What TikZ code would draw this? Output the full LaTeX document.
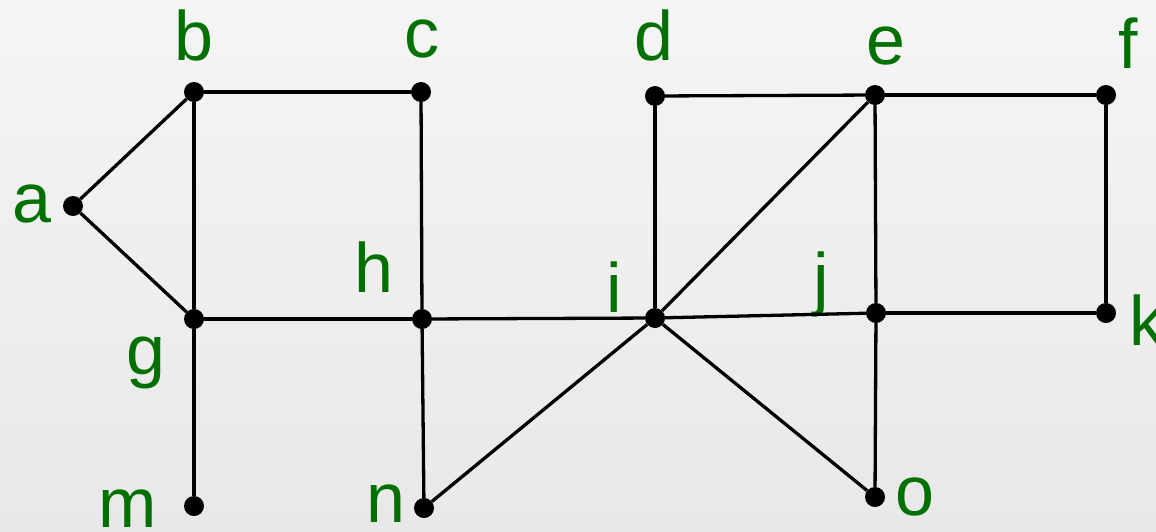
\documentclass[tikz,border=0pt]{standalone}
\usepackage{fontspec}
\setmainfont{Liberation Sans}
\usetikzlibrary{positioning}
\definecolor{lblgreen}{RGB}{0,112,0}

\begin{document}
\begin{tikzpicture}[
    x=1pt, y=-1pt,
    vertex/.style={circle, fill=black, inner sep=0pt, minimum size=20pt},
    lbl/.style={anchor=base, inner sep=0pt, text=lblgreen, font=\fontsize{70}{84}\selectfont},
    edge/.style={line width=3.3pt}
]

% Background
\shade[top color=white!96!black, bottom color=white!91!black] (0,0) rectangle (1156,531);
\useasboundingbox (0,0) rectangle (1156,531);

% Vertices
\node[vertex] (a) at (73,206) {};
\node[vertex] (b) at (194,92) {};
\node[vertex] (c) at (421,92) {};
\node[vertex] (d) at (655,96) {};
\node[vertex] (e) at (875,95) {};
\node[vertex] (f) at (1106,95) {};
\node[vertex] (g) at (194,319) {};
\node[vertex] (h) at (422,319) {};
\node[vertex] (i) at (655,318) {};
\node[vertex] (j) at (876,313) {};
\node[vertex] (k) at (1106,313) {};
\node[vertex] (m) at (194,506) {};
\node[vertex] (n) at (424,508) {};
\node[vertex] (o) at (875,497) {};

% Labels
\node[lbl] (la) at (32,222) {a};
\node[lbl] (lb) at (194,60) {b};
\node[lbl] (lc) at (422,57) {c};
\node[lbl] (ld) at (654,60) {d};
\node[lbl] (le) at (886,64) {e};
\node[lbl] (lf) at (1128,68) {f};
\node[lbl] (lg) at (146,374) {g};
\node[lbl] (lh) at (374,292) {h};
\node[lbl] (li) at (614,312) {i};
\node[lbl] (lj) at (821,302) {j};
\node[lbl] (lk) at (1147,345) {k};
\node[lbl] (lm) at (128,527) {m};
\node[lbl] (ln) at (386,522) {n};
\node[lbl] (lo) at (915,515) {o};

% Edges
\draw[edge] (a) -- (b);
\draw[edge] (a) -- (g);
\draw[edge] (b) -- (c);
\draw[edge] (b) -- (g);
\draw[edge] (c) -- (h);
\draw[edge] (g) -- (h);
\draw[edge] (g) -- (m);
\draw[edge] (h) -- (i);
\draw[edge] (h) -- (n);
\draw[edge] (n) -- (i);
\draw[edge] (d) -- (e);
\draw[edge] (d) -- (i);
\draw[edge] (i) -- (e);
\draw[edge] (e) -- (f);
\draw[edge] (e) -- (j);
\draw[edge] (f) -- (k);
\draw[edge] (i) -- (j);
\draw[edge] (j) -- (k);
\draw[edge] (j) -- (o);
\draw[edge] (i) -- (o);

\end{tikzpicture}
\end{document}
